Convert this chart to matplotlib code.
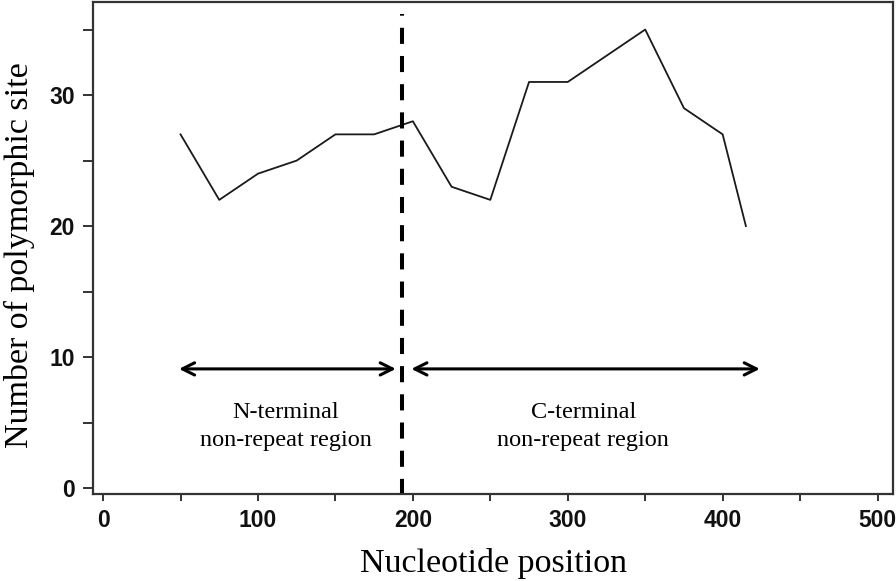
import matplotlib
matplotlib.use("Agg")
import matplotlib.pyplot as plt
from matplotlib.ticker import MultipleLocator

# polymorphic sites per window
positions = [50, 75, 100, 125, 150, 175, 200, 225, 250, 275, 300, 325, 350, 375, 400, 415]
sites = [27, 22, 24, 25, 27, 27, 28, 23, 22, 31, 31, 33, 35, 29, 27, 20]

boundary = 193
n_region = (49, 189)
c_region = (199, 424)
arrow_y = 9.1
region_labels = ["N-terminal\nnon-repeat region", "C-terminal\nnon-repeat region"]
label_x = [118, 310]

serif = ["Liberation Serif", "DejaVu Serif"]

fig = plt.figure(figsize=(8.96, 5.81), dpi=100)
ax = fig.add_axes([0.1038, 0.1497, 0.8929, 0.8468])

ax.plot(positions, sites, color="#1a1a1a", lw=1.3)

# region boundary
ax.plot([boundary, boundary], [-0.5, 36.2], color="black", lw=2.9,
        linestyle=(0, (4, 3)))

for (x0, x1), lx, label in zip([n_region, c_region], label_x, region_labels):
    ax.annotate("", xy=(x0, arrow_y), xytext=(x1, arrow_y),
                arrowprops=dict(arrowstyle="<->", lw=2.2, color="black",
                                mutation_scale=22, shrinkA=0, shrinkB=0))
    ax.text(lx, 6.6, label, ha="center", va="top",
            fontsize=17.5, family=serif, linespacing=1.45)

ax.set_xlim(-6.5, 510)
ax.set_ylim(-0.45, 37.1)
ax.xaxis.set_major_locator(MultipleLocator(100))
ax.xaxis.set_minor_locator(MultipleLocator(50))
ax.yaxis.set_major_locator(MultipleLocator(10))
ax.yaxis.set_minor_locator(MultipleLocator(5))

for s in ax.spines.values():
    s.set_color("#333333")
    s.set_linewidth(1.6)

ax.tick_params(which="both", direction="out", color="#333333", width=1.4)
ax.tick_params(axis="y", which="both", length=7, pad=6)
ax.tick_params(axis="x", which="both", length=5, pad=6)
for lab in ax.get_xticklabels() + ax.get_yticklabels():
    lab.set_family(["Liberation Sans", "DejaVu Sans"])
    lab.set_fontweight("bold")
    lab.set_fontsize(16.5)
    lab.set_color("#111111")

ax.set_xlabel("Nucleotide position", fontsize=24.5, family=serif, labelpad=11)
ax.set_ylabel("Number of polymorphic site", fontsize=24.5, family=serif, labelpad=10)
ax.yaxis.label.set_y(0.486)

fig.savefig("out.png", dpi=100)
